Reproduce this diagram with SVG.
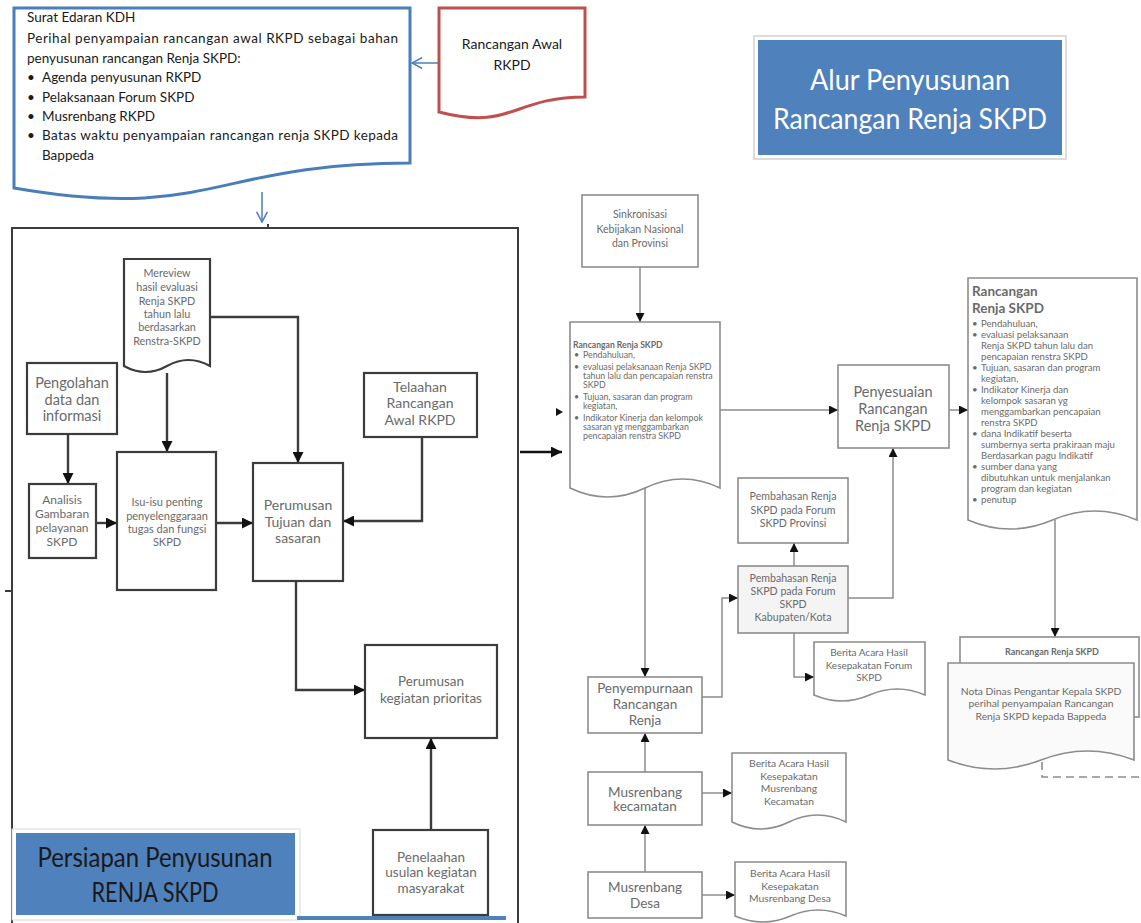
<svg xmlns="http://www.w3.org/2000/svg" width="1141" height="923" viewBox="0 0 1141 923">
<style>
.box{fill:#fff;stroke:#3c3c3c;stroke-width:2.2}
.rbox{fill:#fff;stroke:#8c8c8c;stroke-width:1.6}
.ln{fill:none;stroke:#3c3c3c;stroke-width:2.4}
.rln{fill:none;stroke:#8c8c8c;stroke-width:1.5}
.bl{fill:none;stroke:#4a7ebb;stroke-width:1.5}
.t{font-family:Lato,"Liberation Sans",sans-serif;fill:#6a6a6a;text-anchor:middle}
.tl{font-family:Lato,"Liberation Sans",sans-serif;fill:#6a6a6a}
.k{font-family:Lato,"Liberation Sans",sans-serif;fill:#1a1a1a}
.w{font-family:Lato,"Liberation Sans",sans-serif;fill:#fff;text-anchor:middle}
</style>
<defs>
<marker id="ah" viewBox="0 0 10 10" refX="10" refY="5" markerWidth="11" markerHeight="11" markerUnits="userSpaceOnUse" orient="auto"><path d="M0,0 L10,5 L0,10 Z" fill="#111"/></marker>
<marker id="ahs" viewBox="0 0 10 10" refX="10" refY="5" markerWidth="9" markerHeight="9" markerUnits="userSpaceOnUse" orient="auto"><path d="M0,0 L10,5 L0,10 Z" fill="#111"/></marker>
<marker id="ob" viewBox="0 0 10 10" refX="9.5" refY="5" markerWidth="12" markerHeight="12" markerUnits="userSpaceOnUse" orient="auto"><path d="M1,0.5 L9.5,5 L1,9.5" fill="none" stroke="#4a7ebb" stroke-width="1.3"/></marker>
</defs>
<rect width="1141" height="923" fill="#fff"/>

<!-- left panel frame -->
<g id="panel">
<path d="M12,923 V228 H518 V923" fill="none" stroke="#3c3c3c" stroke-width="2"/>
<line x1="268" y1="224" x2="268" y2="228" stroke="#3c3c3c" stroke-width="2"/>
<line x1="5" y1="591" x2="12" y2="591" stroke="#3c3c3c" stroke-width="2"/>
</g>

<g id="connectors">
<path class="bl" d="M440,63 H412" marker-end="url(#ob)"/>
<path class="bl" d="M262,192 V222" marker-end="url(#ob)"/>
<path class="ln" d="M167,373 V452" marker-end="url(#ah)"/>
<path class="ln" d="M210,317 H298 V463" marker-end="url(#ah)"/>
<path class="ln" d="M68,434 V484" marker-end="url(#ah)"/>
<path class="ln" d="M96,523 H117" marker-end="url(#ah)"/>
<path class="ln" d="M216,523 H253" marker-end="url(#ah)"/>
<path class="ln" d="M422,437 V521 H343" marker-end="url(#ah)"/>
<path class="ln" d="M296,581 V690 H365" marker-end="url(#ah)"/>
<path class="ln" d="M431,830 V738" marker-end="url(#ah)"/>
<path d="M520,452 H562" fill="none" stroke="#111" stroke-width="2.5" marker-end="url(#ah)"/>
<path d="M556,408 L563,412 L556,416 Z" fill="#111"/>
<path class="rln" d="M640,267 V322" marker-end="url(#ahs)"/>
<path class="rln" d="M720,410 H838" marker-end="url(#ahs)"/>
<path class="rln" d="M949,410 H968" marker-end="url(#ahs)"/>
<path class="rln" d="M1055,520 V637" marker-end="url(#ahs)"/>
<path class="rln" d="M645,488 V677" marker-end="url(#ahs)"/>
<path class="rln" d="M702,697 H722 V598 H738" marker-end="url(#ahs)"/>
<path class="rln" d="M794,566 V543" marker-end="url(#ahs)"/>
<path class="rln" d="M848,598 H893 V448" marker-end="url(#ahs)"/>
<path class="rln" d="M794,633 V677 H814" marker-end="url(#ahs)"/>
<path class="rln" d="M645,772 V733" marker-end="url(#ahs)"/>
<path class="rln" d="M702,793 H732" marker-end="url(#ahs)"/>
<path class="rln" d="M645,872 V825" marker-end="url(#ahs)"/>
<path class="rln" d="M702,895 H735" marker-end="url(#ahs)"/>
<path d="M1042,762 V777 H1141" fill="none" stroke="#8c8c8c" stroke-width="1.6" stroke-dasharray="8,5"/>
</g>

<g id="surat-edaran">
<path d="M14,8 H410 V163 C212,163 212,222 14,188 Z" fill="#fff" stroke="#4a7ebb" stroke-width="3"/>
<text class="k" font-size="13.5"><tspan x="27" y="22">Surat Edaran KDH</tspan>
<tspan x="27" y="43" textLength="371" lengthAdjust="spacing">Perihal penyampaian rancangan awal RKPD sebagai bahan</tspan>
<tspan x="27" y="63">penyusunan rancangan Renja SKPD:</tspan>
<tspan x="27" y="82">•</tspan><tspan x="42" y="82">Agenda penyusunan RKPD</tspan>
<tspan x="27" y="102">•</tspan><tspan x="42" y="102">Pelaksanaan Forum SKPD</tspan>
<tspan x="27" y="121">•</tspan><tspan x="42" y="121">Musrenbang RKPD</tspan>
<tspan x="27" y="140">•</tspan><tspan x="42" y="140" textLength="356" lengthAdjust="spacing">Batas waktu penyampaian rancangan renja SKPD kepada</tspan>
<tspan x="42" y="160">Bappeda</tspan></text>
</g>

<g id="rancangan-awal">
<path d="M439,8 H585 V97 C512,97 512,131 439,112 Z" fill="#fff" stroke="#c0504d" stroke-width="3"/>
<text class="k" font-size="14" text-anchor="middle"><tspan x="512" y="49">Rancangan Awal</tspan><tspan x="512" y="70">RKPD</tspan></text>
</g>

<g id="title-alur">
<rect x="754" y="36" width="312" height="123" fill="#fff" stroke="#dcdcdc" stroke-width="2"/>
<rect x="758" y="40" width="304" height="115" fill="#4f81bd"/>
<text class="w" font-size="29"><tspan x="910" y="90" textLength="200" lengthAdjust="spacingAndGlyphs">Alur Penyusunan</tspan><tspan x="910" y="129" textLength="274" lengthAdjust="spacingAndGlyphs">Rancangan Renja SKPD</tspan></text>
</g>

<g id="mereview">
<path class="box" d="M124,259 H210 V366 Q188.5,354 167,366 T124,366 Z"/>
<text class="t" font-size="10.8"><tspan x="167" y="277">Mereview</tspan><tspan x="167" y="291">hasil evaluasi</tspan><tspan x="167" y="305">Renja SKPD</tspan><tspan x="167" y="318">tahun lalu</tspan><tspan x="167" y="331">berdasarkan</tspan><tspan x="167" y="345">Renstra-SKPD</tspan></text>
</g>

<g id="pengolahan">
<rect class="box" x="27" y="363" width="90" height="71"/>
<text class="t" font-size="14.5"><tspan x="72" y="388">Pengolahan</tspan><tspan x="72" y="405">data dan</tspan><tspan x="72" y="421">informasi</tspan></text>
</g>

<g id="analisis">
<rect class="box" x="29" y="484" width="67" height="74"/>
<text class="t" font-size="12"><tspan x="62" y="504">Analisis</tspan><tspan x="62" y="518">Gambaran</tspan><tspan x="62" y="532">pelayanan</tspan><tspan x="62" y="546">SKPD</tspan></text>
</g>

<g id="isu">
<rect class="box" x="117" y="452" width="99" height="138"/>
<text class="t" font-size="11"><tspan x="167" y="506">Isu-isu penting</tspan><tspan x="167" y="520">penyelenggaraan</tspan><tspan x="167" y="533">tugas dan fungsi</tspan><tspan x="167" y="546">SKPD</tspan></text>
</g>

<g id="perumusan-tujuan">
<rect class="box" x="253" y="463" width="90" height="118"/>
<text class="t" font-size="14"><tspan x="298" y="510">Perumusan</tspan><tspan x="298" y="527">Tujuan dan</tspan><tspan x="298" y="543">sasaran</tspan></text>
</g>

<g id="telaahan">
<rect class="box" x="364" y="373" width="113" height="64"/>
<text class="t" font-size="14"><tspan x="420" y="392">Telaahan</tspan><tspan x="420" y="408">Rancangan</tspan><tspan x="420" y="425">Awal RKPD</tspan></text>
</g>

<g id="perumusan-kegiatan">
<rect class="box" x="365" y="645" width="132" height="93"/>
<text class="t" font-size="13.5"><tspan x="431" y="686">Perumusan</tspan><tspan x="431" y="703">kegiatan prioritas</tspan></text>
</g>

<g id="penelaahan">
<rect class="box" x="373" y="830" width="115" height="85"/>
<text class="t" font-size="13.5"><tspan x="431" y="862">Penelaahan</tspan><tspan x="431" y="877">usulan kegiatan</tspan><tspan x="431" y="893">masyarakat</tspan></text>
</g>

<g id="persiapan">
<rect x="12" y="829" width="288" height="91" fill="#fff" stroke="#d8d8d8" stroke-width="1"/>
<rect x="16" y="833" width="279" height="82" fill="#4f81bd"/>
<text class="k" font-size="27" text-anchor="middle" fill="#000"><tspan x="155" y="867" textLength="235" lengthAdjust="spacingAndGlyphs">Persiapan Penyusunan</tspan><tspan x="155" y="902" textLength="127" lengthAdjust="spacingAndGlyphs">RENJA SKPD</tspan></text>
<rect x="297" y="916" width="209" height="4" fill="#4f81bd"/>
</g>

<g id="sinkronisasi">
<rect class="rbox" x="582" y="195" width="116" height="72"/>
<text class="t" font-size="10.5"><tspan x="640" y="218">Sinkronisasi</tspan><tspan x="640" y="233">Kebijakan Nasional</tspan><tspan x="640" y="247">dan Provinsi</tspan></text>
</g>

<g id="rancangan-renja-draft">
<path class="rbox" d="M570,322 H720 V488 Q682.5,470 645,488 T570,488 Z"/>
<text class="tl" font-size="8.6" font-weight="bold" x="573" y="348" fill="#444">Rancangan Renja SKPD</text>
<text class="tl" font-size="8.8"><tspan x="574" y="358">•</tspan><tspan x="583" y="358">Pendahuluan,</tspan>
<tspan x="574" y="370">•</tspan><tspan x="583" y="370">evaluasi pelaksanaan Renja SKPD</tspan>
<tspan x="583" y="379">tahun lalu dan pencapaian renstra</tspan>
<tspan x="583" y="388">SKPD</tspan>
<tspan x="574" y="400">•</tspan><tspan x="583" y="400">Tujuan, sasaran dan program</tspan>
<tspan x="583" y="409">kegiatan,</tspan>
<tspan x="574" y="421">•</tspan><tspan x="583" y="421">Indikator Kinerja dan kelompok</tspan>
<tspan x="583" y="430">sasaran yg menggambarkan</tspan>
<tspan x="583" y="439">pencapaian renstra SKPD</tspan></text>
</g>

<g id="penyesuaian">
<rect class="rbox" x="838" y="365" width="111" height="83"/>
<text class="t" font-size="14.5"><tspan x="893" y="397">Penyesuaian</tspan><tspan x="893" y="414">Rancangan</tspan><tspan x="893" y="431">Renja SKPD</tspan></text>
</g>

<g id="rancangan-renja-final">
<path class="rbox" d="M968,278 H1137 V520 Q1094.75,502 1052.5,520 T968,520 Z"/>
<text class="tl" font-size="13.5" font-weight="bold" fill="#333"><tspan x="972" y="296">Rancangan</tspan><tspan x="972" y="313">Renja SKPD</tspan></text>
<text class="tl" font-size="9.6"><tspan x="972" y="327">•</tspan><tspan x="981" y="327">Pendahuluan,</tspan>
<tspan x="972" y="338">•</tspan><tspan x="981" y="338">evaluasi pelaksanaan</tspan>
<tspan x="981" y="349">Renja SKPD tahun lalu   dan</tspan>
<tspan x="981" y="360">pencapaian  renstra SKPD</tspan>
<tspan x="972" y="371">•</tspan><tspan x="981" y="371">Tujuan, sasaran dan program</tspan>
<tspan x="981" y="382">kegiatan,</tspan>
<tspan x="972" y="393">•</tspan><tspan x="981" y="393">Indikator Kinerja dan</tspan>
<tspan x="981" y="404">kelompok  sasaran yg</tspan>
<tspan x="981" y="415">menggambarkan  pencapaian</tspan>
<tspan x="981" y="426">renstra SKPD</tspan>
<tspan x="972" y="437">•</tspan><tspan x="981" y="437">dana Indikatif beserta</tspan>
<tspan x="981" y="448">sumbernya serta  prakiraan maju</tspan>
<tspan x="981" y="459">Berdasarkan pagu Indikatif</tspan>
<tspan x="972" y="470">•</tspan><tspan x="981" y="470">sumber dana yang</tspan>
<tspan x="981" y="481">dibutuhkan untuk  menjalankan</tspan>
<tspan x="981" y="492">program dan kegiatan</tspan>
<tspan x="972" y="503">•</tspan><tspan x="981" y="503">penutup</tspan></text>
</g>

<g id="pembahasan-provinsi">
<rect class="rbox" x="738" y="478" width="110" height="65"/>
<text class="t" font-size="10.6"><tspan x="793" y="500">Pembahasan Renja</tspan><tspan x="793" y="514">SKPD pada Forum</tspan><tspan x="793" y="527">SKPD Provinsi</tspan></text>
</g>

<g id="pembahasan-kabupaten">
<rect class="rbox" x="738" y="566" width="110" height="67" style="fill:#f4f4f4"/>
<text class="t" font-size="10.6"><tspan x="793" y="582">Pembahasan Renja</tspan><tspan x="793" y="595">SKPD pada Forum</tspan><tspan x="793" y="608">SKPD</tspan><tspan x="793" y="621">Kabupaten/Kota</tspan></text>
</g>

<g id="berita-forum">
<path class="rbox" d="M814,642 H925 V695 Q897,683 869.5,695 T814,695 Z"/>
<text class="t" font-size="10"><tspan x="869" y="656">Berita Acara Hasil</tspan><tspan x="869" y="669">Kesepakatan Forum</tspan><tspan x="869" y="681">SKPD</tspan></text>
</g>

<g id="penyempurnaan">
<rect class="rbox" x="588" y="677" width="114" height="56"/>
<text class="t" font-size="13.5"><tspan x="645" y="693">Penyempurnaan</tspan><tspan x="645" y="709">Rancangan</tspan><tspan x="645" y="725">Renja</tspan></text>
</g>

<g id="musrenbang-kecamatan">
<rect class="rbox" x="588" y="772" width="114" height="53"/>
<text class="t" font-size="13.5"><tspan x="645" y="797">Musrenbang</tspan><tspan x="645" y="811">kecamatan</tspan></text>
</g>

<g id="berita-kecamatan">
<path class="rbox" d="M732,753 H846 V822 Q817.5,808 789,822 T732,822 Z"/>
<text class="t" font-size="10.3"><tspan x="789" y="767">Berita Acara Hasil</tspan><tspan x="789" y="780">Kesepakatan</tspan><tspan x="789" y="792">Musrenbang</tspan><tspan x="789" y="805">Kecamatan</tspan></text>
</g>

<g id="musrenbang-desa">
<rect class="rbox" x="588" y="872" width="114" height="46"/>
<text class="t" font-size="13.5"><tspan x="645" y="892">Musrenbang</tspan><tspan x="645" y="908">Desa</tspan></text>
</g>

<g id="berita-desa">
<path class="rbox" d="M735,862 H846 V916 Q818,904 790.5,916 T735,916 Z"/>
<text class="t" font-size="10.3"><tspan x="790" y="877">Berita Acara Hasil</tspan><tspan x="790" y="890">Kesepakatan</tspan><tspan x="790" y="902">Musrenbang Desa</tspan></text>
</g>

<g id="nota-dinas">
<rect class="rbox" x="960" y="637" width="179" height="80"/>
<text class="t" font-size="9" font-weight="bold" fill="#444" x="1052" y="655">Rancangan Renja SKPD</text>
<path class="rbox" d="M948,663 H1134 V760 Q1087.5,742 1041,760 T948,760 Z" style="fill:#fafafa"/>
<text class="t" font-size="10.3"><tspan x="1041" y="695">Nota Dinas Pengantar Kepala SKPD</tspan><tspan x="1041" y="707">perihal penyampaian Rancangan</tspan><tspan x="1041" y="720">Renja SKPD  kepada Bappeda</tspan></text>
</g>
</svg>
